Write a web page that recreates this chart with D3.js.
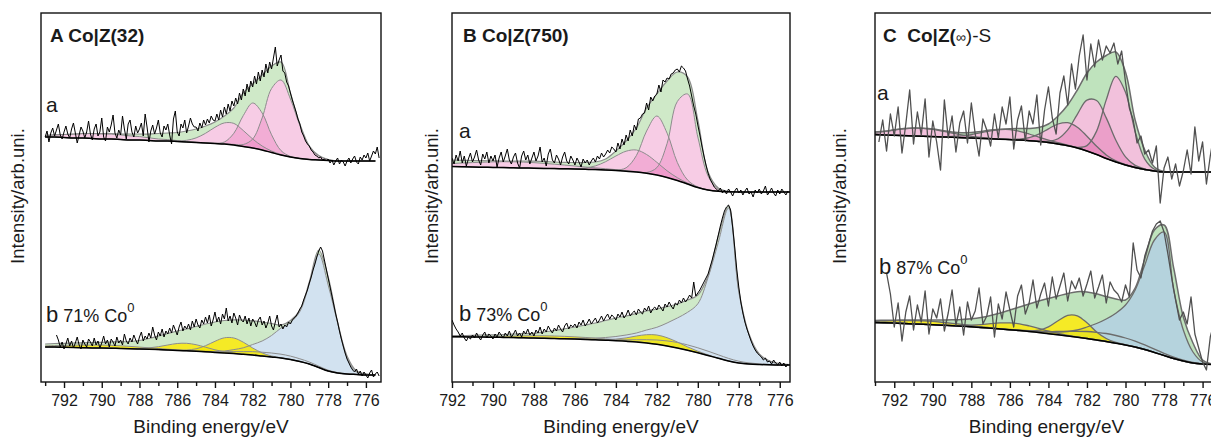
<!DOCTYPE html>
<html>
<head>
<meta charset="utf-8">
<script src="https://cdn.jsdelivr.net/npm/d3@7"></script>
<style>
  body { margin: 0; background: #fff; }
  svg { display: block; }
  text { font-family: "Liberation Sans", Arial, Helvetica, sans-serif; fill: #1a1a1a; }
</style>
</head>
<body>
<svg id="chart" width="1211" height="439"></svg>
<script>
"use strict";

// binding energy grid of the fitted curves (eV)
const fitE = [793, 792.5, 792, 791.5, 791, 790.5, 790, 789.5, 789, 788.5,
    788, 787.5, 787, 786.5, 786, 785.5, 785, 784.5, 784, 783.5,
    783, 782.5, 782, 781.5, 781, 780.5, 780, 779.5, 779, 778.5,
    778, 777.5, 777, 776.5, 776, 775.5];

// ---- A, spectrum a (baseline, envelope, components as height over baseline)
const aaBase = [245, 245, 244.5, 244, 244, 243.5, 243, 243, 242.5, 242,
    242, 241.5, 241, 241, 240.5, 240, 239.5, 239, 238.5, 238,
    237, 235.5, 234, 232, 229.5, 227, 225, 223.5, 222.5, 222,
    221.5, 221, 221, 221, 221, 221];
const aaEnv = [246.5, 247, 247.5, 248, 248.5, 248.5, 248.5, 248.5, 248, 248,
    248, 248, 248.5, 249, 249.5, 251, 253, 256, 260, 266,
    274, 289, 298, 307, 316, 320, 289, 258, 236, 226.5,
    222.5, 221.2, 221, 221, 221, 221];
const aaP1 = [0, 0, 0, 0, 0, 0, 0, 0, 0, 0, 0, 0, 0, 0, 0, 0, 0, 0, 0, 0,
    0.6, 2, 9, 32, 64, 75, 58, 33, 13, 4, 1, 0, 0, 0, 0, 0];
const aaP2 = [0, 0, 0, 0, 0, 0, 0, 0, 0, 0, 0, 0, 0, 0, 0, 0, 0, 0, 0.2, 2,
    11.7, 30.9, 45, 37, 17.7, 4.4, 0.6, 0, 0, 0, 0, 0, 0, 0, 0, 0];
const aaP3 = [0, 0, 0, 0, 0, 0, 0, 0, 0, 0, 0, 0, 0, 0, 0.5, 1.7, 4.6, 9.7, 16.2, 21.1,
    21.6, 16, 9, 4, 1.5, 0.5, 0, 0, 0, 0, 0, 0, 0, 0, 0, 0];
const aaP4 = [1.5, 2.2, 3, 3.8, 4.4, 4.9, 5, 4.9, 4.6, 4.1, 3.4, 2.7, 2, 1.4, 0.9, 0.5, 0.3, 0, 0, 0,
    0, 0, 0, 0, 0, 0, 0, 0, 0, 0, 0, 0, 0, 0, 0, 0];
const aaRawStart = 793.0;
const aaRaw = [245, 251, 240, 249, 254, 246, 252, 258, 247, 243,
    250, 256, 248, 244, 253, 259, 249, 239, 247, 255,
    251, 244, 250, 261, 248, 242, 253, 258, 246, 250,
    264, 245, 241, 255, 250, 257, 267, 249, 244, 252,
    247, 266, 253, 243, 258, 262, 250, 245, 256, 249,
    253, 259, 246, 268, 255, 240, 251, 257, 248, 254,
    262, 249, 245, 256, 252, 258, 247, 238, 263, 271,
    250, 246, 258, 254, 262, 249, 256, 264, 258, 255,
    255, 251, 259, 254, 262, 257, 263, 259, 266, 262,
    261, 268, 262, 272, 265, 275, 268, 278, 271, 281,
    276, 284, 278, 289, 282, 293, 286, 298, 290, 301,
    295, 306, 298, 310, 301, 312, 305, 318, 309, 320,
    313, 324, 335, 316, 322, 327, 311, 309, 300, 296,
    289, 282, 276, 270, 263, 258, 250, 246, 241, 238,
    236, 232, 230, 227, 226, 224, 225, 222, 223, 221,
    223, 219, 222, 217, 221, 224, 218, 222, 220, 216,
    221, 224, 219, 223, 226, 220, 218, 225, 222, 227,
    224, 229, 221, 226, 231, 228, 235, 224];

// ---- A, spectrum b
const abBase = [35, 35, 34.7, 34.5, 34.3, 34, 34, 33.8, 33.5, 33.3,
    33, 32.7, 32.4, 32, 31.6, 31.2, 30.7, 30.2, 29.6, 29,
    28.4, 27.7, 27, 26, 25, 24, 22.5, 20.5, 18, 14.5,
    11, 9, 8, 7.5, 7, 7];
const abEnv = [38, 38.5, 38.7, 39, 39.2, 39.5, 39.7, 40, 40.2, 40.5,
    41.5, 43.5, 46, 48.5, 51, 53, 55.5, 58, 60, 61.5,
    62.2, 62, 61.2, 60, 58.5, 57, 61.5, 72, 100, 132,
    105, 60, 26, 11, 8, 7];
const abCo = [0, 0, 0, 0, 0, 0, 0, 0, 0, 0, 0, 0, 0, 0, 0, 0, 0, 0, 1, 2,
    4, 6.5, 10.5, 15, 21.5, 30, 37, 50, 80, 113.5, 86, 50, 16, 2.5, 1, 0.3];
const abY1 = [0, 0, 0, 0, 0, 0, 0, 0, 0, 0, 0, 0, 0, 0, 0.2, 0.8, 2.5, 6.1, 11.1, 15.2,
    15.6, 12.1, 7, 3.1, 1, 0.3, 0, 0, 0, 0, 0, 0, 0, 0, 0, 0];
const abY2 = [0, 0, 0, 0, 0, 0, 0, 0, 0, 0.2, 0.5, 1.4, 2.9, 5, 6.9, 7.5, 6.6, 4.6, 2.6, 1.2,
    0.4, 0, 0, 0, 0, 0, 0, 0, 0, 0, 0, 0, 0, 0, 0, 0];
const abY3 = [1.1, 1.5, 1.9, 2.3, 2.7, 2.9, 3, 2.9, 2.7, 2.3, 1.9, 1.5, 1.1, 0.8, 0.5, 0.3, 0, 0, 0, 0,
    0, 0, 0, 0, 0, 0, 0, 0, 0, 0, 0, 0, 0, 0, 0, 0];
const abL = [0, 0, 0, 0, 0, 0, 0, 0, 0, 0, 0, 0, 0, 0, 0, 0, 0.25, 0.48, 0.84, 1.36,
    2, 2.7, 3.4, 3.8, 4, 3.8, 3.4, 2.7, 2, 1.36, 0.84, 0.48, 0.25, 0.1, 0, 0];
const abRawStart = 792.4;
const abRaw = [47, 42, 35, 40, 33, 38, 44, 36, 41, 34,
    39, 45, 37, 33, 42, 38, 35, 43, 40, 36,
    44, 37, 41, 34, 39, 46, 38, 42, 35, 43,
    40, 36, 45, 39, 42, 37, 48, 41, 38, 44,
    40, 47, 42, 38, 45, 50, 41, 46, 43, 49,
    44, 55, 47, 42, 50, 46, 53, 45, 51, 48,
    54, 49, 57, 52, 47, 55, 60, 51, 56, 53,
    58, 52, 61, 55, 63, 57, 54, 62, 58, 65,
    59, 67, 56, 62, 70, 60, 65, 58, 68, 63,
    74, 61, 66, 59, 69, 64, 57, 67, 62, 60,
    66, 58, 64, 56, 63, 60, 55, 62, 65, 57,
    61, 54, 59, 66, 56, 52, 60, 67, 55, 58,
    53, 57, 55, 60, 58, 62, 64, 66, 69, 73,
    76, 82, 87, 92, 99, 105, 112, 118, 125, 131,
    135, 131, 122, 113, 104, 95, 86, 77, 68, 60,
    51, 43, 36, 29, 23, 19, 15, 12, 10, 13,
    8, 11, 6, 10, 7, 4, 9, 12, 5, 8,
    10, 6];

// ---- B, spectrum a
const baBase = [215.7, 215.6, 215.5, 215.3, 215, 214.8, 214.6, 214.4, 214.2, 214,
    213.8, 213.6, 213.4, 213.2, 213, 212.7, 212.4, 212, 211.5, 210.8,
    210, 208.7, 207, 204.5, 201.5, 198, 194.5, 192, 190.7, 190.2,
    190, 190, 190, 190, 190, 190];
const baEnv = [222, 222, 222, 221.7, 221.5, 221.3, 221.2, 221, 221, 221,
    220.8, 220.5, 220, 219.7, 219.5, 219.5, 220, 223, 231, 241,
    254, 274, 288, 301, 310, 305, 262, 210, 194, 190.5,
    190, 190, 190, 190, 190, 190];
const baP1 = [0, 0, 0, 0, 0, 0, 0, 0, 0, 0, 0, 0, 0, 0, 0, 0, 0, 0, 0, 0,
    0, 0.8, 7.4, 34, 79, 90, 50.5, 14, 1.9, 0.2, 0, 0, 0, 0, 0, 0];
const baP2 = [0, 0, 0, 0, 0, 0, 0, 0, 0, 0, 0, 0, 0, 0, 0, 0, 0, 0, 0.4, 3.4,
    16.4, 42.3, 59, 44.4, 18, 4, 0.5, 0, 0, 0, 0, 0, 0, 0, 0, 0];
const baP3 = [0, 0, 0, 0, 0, 0, 0, 0, 0, 0, 0, 0, 0, 0, 0.4, 1.3, 3.7, 8.3, 14.5, 20,
    22, 18.8, 12.7, 6.7, 2.8, 0.9, 0.2, 0, 0, 0, 0, 0, 0, 0, 0, 0];
const baP4 = [1.75, 2.3, 3, 3.7, 4.4, 5, 5.55, 5.9, 6, 5.9, 5.55, 5, 4.4, 3.7, 3, 2.3, 1.75, 1.25, 0.87, 0.58,
    0.36, 0.2, 0, 0, 0, 0, 0, 0, 0, 0, 0, 0, 0, 0, 0, 0];
const baRawStart = 792.0;
const baRaw = [224, 218, 227, 221, 231, 219, 226, 216, 223, 229,
    220, 225, 232, 222, 217, 228, 223, 230, 219, 226,
    221, 227, 215, 224, 230, 220, 226, 233, 222, 218,
    225, 229, 219, 214, 226, 231, 222, 227, 218, 224,
    230, 221, 226, 235, 220, 224, 216, 228, 233, 222,
    219, 227, 223, 217, 225, 230, 221, 218, 226, 222,
    217, 224, 220, 215, 223, 219, 222, 217, 221, 224,
    220, 226, 223, 229, 225, 228, 232, 229, 235, 233,
    230, 239, 233, 243, 237, 247, 241, 252, 246, 257,
    252, 263, 264, 268, 269, 279, 272, 285, 281, 286,
    288, 297, 290, 302, 300, 304, 303, 308, 309, 312,
    313, 310, 316, 314, 311, 303, 296, 286, 276, 268,
    257, 247, 236, 226, 217, 209, 203, 199, 195, 193,
    191, 194, 189, 192, 188, 193, 190, 186, 191, 194,
    189, 192, 187, 191, 194, 188, 190, 185, 192, 189,
    193, 188, 191, 196, 187, 190, 194, 189, 186, 192,
    188, 193, 190, 187, 191];

// ---- B, spectrum b
const bbBase = [45.5, 45.4, 45.3, 45.2, 45, 44.9, 44.8, 44.6, 44.4, 44.2,
    44, 43.8, 43.5, 43.2, 42.9, 42.6, 42.2, 41.8, 41.3, 40.7,
    40, 39, 37.7, 36, 34, 31.7, 29.2, 26.5, 23.7, 21,
    19, 18, 17.5, 17.2, 17, 17];
const bbEnv = [46.5, 46.5, 46.5, 46.5, 46.7, 47, 47.2, 47.5, 48, 48.3,
    48.7, 50, 51.5, 53.2, 55, 57, 59, 61.5, 64, 66,
    68.5, 71, 73, 75.3, 78, 82, 87, 106, 146, 176,
    92, 48, 28, 21, 18, 17];
const bbCo = [0, 0, 0, 0, 0, 0, 0, 0, 0, 0, 0, 0, 0, 0.3, 0.6, 1, 1.7, 2.7, 4.2, 6.3,
    9, 13, 17, 23, 30, 38, 49, 78, 116, 153, 71, 29, 9.5, 3.8, 1.5, 0.5];
const bbY1 = [0, 0, 0, 0, 0, 0, 0, 0, 0, 0, 0, 0, 0, 0, 0, 0, 0, 0.6, 1.6, 3.4,
    6, 8.3, 9.3, 8.3, 6, 3.4, 1.6, 0.6, 0, 0, 0, 0, 0, 0, 0, 0];
const bbY2 = [0, 0, 0.16, 0.28, 0.42, 0.65, 0.92, 1.25, 1.6, 1.95, 2.24, 2.43, 2.5, 2.43, 2.24, 1.95, 1.6, 1.25, 0.92, 0.63,
    0.42, 0.25, 0, 0, 0, 0, 0, 0, 0, 0, 0, 0, 0, 0, 0, 0];
const bbL = [0, 0, 0, 0, 0, 0, 0, 0, 0, 0, 0, 0, 0, 0, 0, 0, 0, 0, 1, 1.5,
    2.3, 3.3, 4.3, 5.1, 5.5, 5.4, 5, 4.3, 3.5, 2.6, 1.8, 1.1, 0.6, 0.3, 0, 0];
const bbRawStart = 792.0;
const bbRaw = [62, 57, 53, 50, 46, 49, 44, 41, 45, 43,
    47, 44, 49, 45, 42, 47, 50, 44, 48, 46,
    43, 48, 45, 50, 47, 44, 49, 46, 51, 45,
    48, 52, 46, 49, 45, 51, 48, 53, 47, 50,
    46, 52, 49, 55, 48, 53, 50, 56, 52, 49,
    54, 51, 57, 53, 50, 56, 59, 53, 57, 55,
    58, 54, 60, 57, 62, 56, 59, 63, 58, 61,
    64, 59, 62, 66, 61, 65, 68, 63, 67, 65,
    62, 68, 65, 70, 64, 67, 72, 66, 69, 71,
    67, 73, 70, 68, 74, 71, 76, 69, 73, 75,
    72, 77, 74, 71, 78, 75, 80, 76, 73, 79,
    77, 82, 79, 84, 80, 83, 87, 84, 100, 86,
    89, 92, 96, 100, 104, 108, 115, 122, 130, 138,
    147, 156, 164, 171, 175, 177, 172, 155, 135, 113,
    95, 80, 69, 60, 53, 47, 41, 36, 32, 29,
    27, 25, 22, 24, 20, 21, 18, 22, 19, 17,
    20, 16, 19, 15, 18];

// ---- C, spectrum a
const caBase = [247.5, 247, 246.7, 246.4, 246, 245.7, 245.4, 245, 244.7, 244.3,
    244, 243.6, 243.2, 242.8, 242.4, 241.9, 241.3, 240.5, 239.5, 238,
    236.3, 234, 231, 227.5, 223.5, 220, 217, 214.5, 212.5, 211,
    210, 210, 210, 210, 210, 210];
const caEnv = [250, 250.7, 252.2, 253.4, 254, 253.8, 253, 251.5, 250, 249.2,
    249.5, 250.5, 252, 252.7, 253.2, 253.5, 253.5, 254.5, 258, 266,
    277, 292, 309, 320, 326.5, 330, 310, 262, 232, 215,
    210.5, 210, 210, 210, 210, 210];
const caP1 = [0, 0, 0, 0, 0, 0, 0, 0, 0, 0, 0, 0, 0, 0, 0, 0, 0, 0, 0, 0,
    0, 0.7, 5.4, 23.4, 58.6, 85.7, 72.8, 36, 10.4, 1.7, 0.2, 0, 0, 0, 0, 0];
const caP2 = [0, 0, 0, 0, 0, 0, 0, 0, 0, 0, 0, 0, 0, 0, 0, 0, 0, 0.2, 1.2, 5.3,
    15.8, 33.7, 50.8, 54, 40.6, 21.7, 8.1, 2.1, 0.5, 0, 0, 0, 0, 0, 0, 0];
const caP3 = [0, 0, 0, 0, 0, 0, 0, 0, 0, 0, 0, 0, 0, 0, 0.3, 1, 3.1, 7.4, 13.7, 20,
    23, 20.8, 14.8, 8.2, 3.6, 1.2, 0.3, 0, 0, 0, 0, 0, 0, 0, 0, 0];
const caP4 = [0, 0, 0, 0, 0, 0, 0, 0.3, 0.8, 1.8, 3.5, 5.7, 8, 9.6, 10, 8.8, 6.7, 4.3, 2.4, 1.3,
    0.6, 0.3, 0, 0, 0, 0, 0, 0, 0, 0, 0, 0, 0, 0, 0, 0];
const caP5 = [2.3, 3.7, 5.3, 6.8, 7.8, 7.95, 7.2, 5.9, 4.3, 2.8, 1.6, 0.9, 0.4, 0, 0, 0, 0, 0, 0, 0,
    0, 0, 0, 0, 0, 0, 0, 0, 0, 0, 0, 0, 0, 0, 0, 0];
const caRawStart = 792.8;
const caRaw = [240, 262, 231, 268, 246, 275, 229, 258, 292, 238,
    270, 247, 283, 225, 261, 240, 212, 282, 244, 266,
    230, 259, 271, 239, 279, 248, 226, 263, 252, 236,
    268, 244, 275, 258, 285, 233, 262, 276, 241, 271,
    258, 287, 237, 272, 295, 264, 248, 289, 306, 277,
    318, 293, 326, 347, 302, 338, 315, 342, 322, 336,
    329, 339, 318, 331, 300, 274, 262, 239, 246, 228,
    232, 219, 236, 179, 214, 225, 203, 218, 196, 211,
    232, 208, 255, 221, 240, 198, 226, 249];

// ---- C, spectrum b
const cbBase = [59.5, 59.2, 58.9, 58.5, 58.1, 57.7, 57.3, 56.8, 56.3, 55.8,
    55.2, 54.5, 53.8, 53, 52.2, 51.4, 50.5, 49.5, 48.3, 47.2,
    46, 44.8, 43.5, 42, 40.5, 38.8, 37, 35, 32.5, 29.5,
    26.5, 23.5, 21, 19, 18, 17.5];
const cbEnv = [61.5, 61.7, 61.8, 62, 62, 62, 62, 62, 62.2, 62.5,
    63.2, 64.5, 66.5, 69, 72, 75, 78, 81, 83.5, 86,
    88.5, 90.3, 90, 88.2, 85.5, 83, 82, 94, 123, 152,
    157, 114, 65, 39, 22, 18];
const cbCo = [0, 0, 0, 0, 0, 0, 0, 0, 0, 0, 0, 0, 0, 0, 0, 0.2, 0.5, 0.9, 1.6, 2.7,
    4.5, 7.2, 11.5, 16.5, 22.5, 30, 40, 57, 84.5, 112.5, 123.5, 68.5, 31, 11, 2, 0.5];
const cbY1 = [0, 0, 0, 0, 0, 0, 0, 0, 0, 0, 0, 0, 0, 0, 0, 0.1, 0.6, 2.3, 6.8, 14.1,
    20.7, 21.4, 15.7, 8.1, 3, 0.8, 0.2, 0, 0, 0, 0, 0, 0, 0, 0, 0];
const cbY2 = [0, 0, 0, 0, 0, 0, 0, 0, 0.3, 0.7, 1.6, 2.9, 4.6, 6.1, 6.9, 6.8, 5.6, 4.1, 2.6, 1.4,
    0.6, 0.2, 0, 0, 0, 0, 0, 0, 0, 0, 0, 0, 0, 0, 0, 0];
const cbY3 = [1.2, 1.75, 2.4, 2.9, 3.35, 3.5, 3.35, 2.9, 2.4, 1.75, 1.2, 0.7, 0.4, 0.2, 0, 0, 0, 0, 0, 0,
    0, 0, 0, 0, 0, 0, 0, 0, 0, 0, 0, 0, 0, 0, 0, 0];
const cbL = [0, 0, 0, 0, 0, 0, 0, 0, 0, 0, 0, 0, 0, 0, 0.3, 0.5, 0.9, 1.4, 2.2, 3.3,
    4.6, 5.9, 7, 7.7, 8, 7.7, 7, 5.9, 4.6, 3.3, 2.2, 1.4, 0.9, 0.5, 0.3, 0];
const cbRawStart = 792.4;
const cbRaw = [109, 88, 55, 79, 41, 70, 86, 52, 77, 60,
    91, 48, 73, 64, 83, 51, 69, 92, 57, 75,
    47, 80, 62, 71, 94, 58, 66, 85, 45, 78,
    63, 90, 72, 55, 86, 97, 68, 79, 102, 74,
    88, 99, 76, 105, 83, 96, 109, 81, 101, 93,
    104, 86, 98, 111, 84, 95, 107, 79, 100, 92,
    88, 80, 97, 85, 139, 112, 104, 126, 138, 151,
    158, 161, 150, 128, 104, 82, 62, 70, 58, 85,
    48, 34, 20, 12, 45, 60];

const majorTicks = [792, 790, 788, 786, 784, 782, 780, 778, 776];
const minorTicks = [793, 791, 789, 787, 785, 783, 781, 779, 777, 775];
const co0Share = ["71%", "73%", "87%"];

// ---------------------------------------------------------------------
const plotTop = 13;
const plotBottom = 382;
const y = d3.scaleLinear().domain([0, 369]).range([plotBottom, plotTop]);

const styleAB = {
    green: "#cfe9c8", pink: "rgb(236,128,190)", pinkOp: 0.4,
    blue: "#d2e2f0", yellow: "rgb(243,230,0)", yellowOp: 0.85,
    comp: "#8c8c8c", compW: 1, raw: "#000", rawW: 1
};
const styleC = {
    green: "#bfe3bd", pink: "rgb(226,118,178)", pinkOp: 0.45,
    blue: "#b5d3dd", yellow: "rgb(243,230,0)", yellowOp: 0.85,
    comp: "#6c6c6c", compW: 1.3, raw: "#505050", rawW: 1.3
};

const panels = [
    {
        key: "A", domain: [793.22, 775.2], left: 41, right: 381, style: styleAB,
        yTitleX: 18,
        traces: [
            {base: aaBase, env: aaEnv, raw: aaRaw, rawStart: aaRawStart, rawStep: 0.1,
                comps: [[aaP4, "pink"], [aaP3, "pink"], [aaP2, "pink"], [aaP1, "pink"]]},
            {base: abBase, env: abEnv, raw: abRaw, rawStart: abRawStart, rawStep: 0.1,
                comps: [[abCo, "blue"], [abY3, "yellow"], [abY2, "yellow"], [abY1, "yellow"], [abL, null]]}
        ],
        title: [{t: "A Co|Z(32)", w: "bold", s: 19}], titleX: 50, titleY: 42,
        aX: 46, aY: 112, bX: 46, bY: 322
    },
    {
        key: "B", domain: [792, 775.5], left: 452, right: 790, style: styleAB,
        yTitleX: 432,
        traces: [
            {base: baBase, env: baEnv, raw: baRaw, rawStart: baRawStart, rawStep: 0.1,
                comps: [[baP4, "pink"], [baP3, "pink"], [baP2, "pink"], [baP1, "pink"]]},
            {base: bbBase, env: bbEnv, raw: bbRaw, rawStart: bbRawStart, rawStep: 0.1,
                comps: [[bbCo, "blue"], [bbY2, "yellow"], [bbY1, "yellow"], [bbL, null]]}
        ],
        title: [{t: "B Co|Z(750)", w: "bold", s: 19}], titleX: 463, titleY: 42,
        aX: 459, aY: 138, bX: 459, bY: 321
    },
    {
        key: "C", domain: [793, 775.2], left: 875, right: 1218, style: styleC,
        yTitleX: 840,
        traces: [
            {base: caBase, env: caEnv, raw: caRaw, rawStart: caRawStart, rawStep: 0.2,
                comps: [[caP5, "pink"], [caP4, "pink"], [caP3, "pink"], [caP2, "pink"], [caP1, "pink"]]},
            {base: cbBase, env: cbEnv, raw: cbRaw, rawStart: cbRawStart, rawStep: 0.2,
                comps: [[cbCo, "blue"], [cbY3, "yellow"], [cbY2, "yellow"], [cbY1, "yellow"], [cbL, null]]}
        ],
        title: [{t: "C\u00a0\u00a0Co|Z(", w: "bold", s: 19}, {t: "\u221e", w: "normal", s: 14},
            {t: ")-S", w: "normal", s: 19}], titleX: 883, titleY: 42,
        aX: 877, aY: 100, bX: 879, bY: 274
    }
];

const svg = d3.select("#chart");
const defs = svg.append("defs");

const curve = d3.curveCatmullRom.alpha(0.5);

var drawTrace = function (g, x, t, st) {
    var area = d3.area().curve(curve)
        .x(d => x(d.e)).y0(d => y(d.b)).y1(d => y(d.t));
    var line = d3.line().curve(curve)
        .x(d => x(d.e)).y(d => y(d.t));
    var envRows = fitE.map((e, i) => ({e: e, b: t.base[i], t: t.env[i]}));
    var baseRows = fitE.map((e, i) => ({e: e, b: t.base[i], t: t.base[i]}));
    var compRows = t.comps.map(c => fitE.map((e, i) =>
        ({e: e, b: t.base[i], t: t.base[i] + c[0][i]})));

    g.append("path").datum(envRows).attr("d", area).attr("fill", st.green);

    // knock the envelope colour out under the components
    t.comps.forEach((c, k) => {
        if (c[1]) {
            g.append("path").datum(compRows[k]).attr("d", area).attr("fill", "#fff");
        }
    });
    t.comps.forEach((c, k) => {
        if (!c[1]) {
            return;
        }
        var fill = st[c[1]];
        var op = c[1] === "pink" ? st.pinkOp : (c[1] === "yellow" ? st.yellowOp : 1);
        g.append("path").datum(compRows[k]).attr("d", area)
            .attr("fill", fill).attr("fill-opacity", op);
    });
    t.comps.forEach((c, k) => {
        g.append("path").datum(compRows[k]).attr("d", line)
            .attr("fill", "none").attr("stroke", st.comp).attr("stroke-width", st.compW);
    });
    g.append("path").datum(envRows).attr("d", line)
        .attr("fill", "none").attr("stroke", st.comp).attr("stroke-width", st.compW + 0.2);
    g.append("path").datum(baseRows).attr("d", line)
        .attr("fill", "none").attr("stroke", "#000").attr("stroke-width", 1.5);

    var rawLine = d3.line()
        .x((d, i) => x(t.rawStart - i * t.rawStep))
        .y(d => y(d));
    g.append("path").datum(t.raw).attr("d", rawLine)
        .attr("fill", "none").attr("stroke", st.raw)
        .attr("stroke-width", st.rawW).attr("stroke-linejoin", "round");
};

panels.forEach((p, pi) => {
    var x = d3.scaleLinear().domain(p.domain).range([p.left, p.right]);
    var inDomain = v => v <= p.domain[0] && v >= p.domain[1];
    var g = svg.append("g").attr("class", "panel-" + p.key);

    defs.append("clipPath").attr("id", "clip" + p.key)
        .append("rect")
        .attr("x", p.left).attr("y", plotTop)
        .attr("width", p.right - p.left).attr("height", plotBottom - plotTop);

    var plot = g.append("g").attr("clip-path", "url(#clip" + p.key + ")");
    p.traces.forEach(t => drawTrace(plot, x, t, p.style));

    // frame
    g.append("rect")
        .attr("x", p.left).attr("y", plotTop)
        .attr("width", p.right - p.left).attr("height", plotBottom - plotTop)
        .attr("fill", "none").attr("stroke", "#111").attr("stroke-width", 1.4);

    // axes
    var major = d3.axisBottom(x).tickValues(majorTicks.filter(inDomain))
        .tickSize(6).tickPadding(7).tickFormat(d3.format("d"));
    var minor = d3.axisBottom(x).tickValues(minorTicks.filter(inDomain))
        .tickSize(4).tickFormat("");
    var ax = g.append("g").attr("transform", "translate(0," + plotBottom + ")").call(major);
    var axm = g.append("g").attr("transform", "translate(0," + plotBottom + ")").call(minor);
    [ax, axm].forEach(a => {
        a.select(".domain").remove();
        a.selectAll(".tick line").attr("stroke", "#111").attr("stroke-width", 1.4);
    });
    ax.selectAll(".tick text")
        .attr("font-size", 16)
        .attr("font-family", "'Liberation Sans', Arial, sans-serif")
        .attr("fill", "#1a1a1a");

    g.append("text")
        .attr("x", (p.left + p.right) / 2).attr("y", 433)
        .attr("text-anchor", "middle").attr("font-size", 19)
        .text("Binding energy/eV");

    g.append("text")
        .attr("transform", "translate(" + p.yTitleX + "," + 196 + ") rotate(-90)")
        .attr("text-anchor", "middle").attr("dy", "0.35em").attr("font-size", 18.5)
        .text("Intensity/arb.uni.");

    // panel title
    var tt = g.append("text").attr("x", p.titleX).attr("y", p.titleY);
    p.title.forEach(s => {
        tt.append("tspan").attr("font-weight", s.w).attr("font-size", s.s).text(s.t);
    });

    // spectrum labels
    g.append("text").attr("x", p.aX).attr("y", p.aY).attr("font-size", 21).text("a");
    var lb = g.append("text").attr("x", p.bX).attr("y", p.bY);
    lb.append("tspan").attr("font-size", 22).text("b");
    lb.append("tspan").attr("font-size", 18).text("\u00a0" + co0Share[pi] + " Co");
    lb.append("tspan").attr("font-size", 13).attr("dy", -10).text("0");
});
</script>
</body>
</html>
